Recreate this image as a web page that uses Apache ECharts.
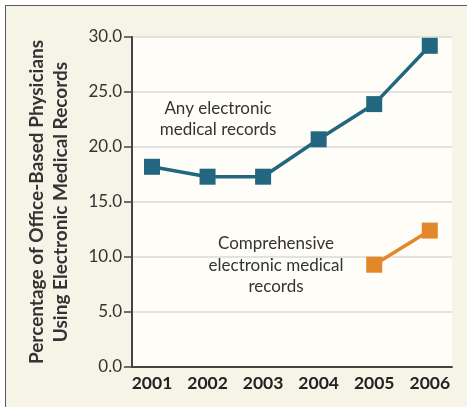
<!DOCTYPE html>
<html>
<head>
<meta charset="utf-8">
<script src="https://cdn.jsdelivr.net/npm/echarts@6/dist/echarts.min.js"></script>
<style>
  html, body { margin: 0; padding: 0; background: #ffffff; }
  #frame { position: absolute; left: 5px; top: 5px; width: 462px; height: 402px;
           border-top: 1.5px solid #5a5a5a; border-left: 1.5px solid #5a5a5a; background: #f6f3e7; box-sizing: border-box; }
  #chart { position: absolute; left: 0; top: 0; width: 467px; height: 407px; }
</style>
</head>
<body>
<div id="frame"></div>
<div id="chart"></div>
<script>
// Data
const years = [2001, 2002, 2003, 2004, 2005, 2006];
const anyEMR = [18.2, 17.3, 17.3, 20.7, 23.9, 29.2];
const comprehensiveYears = [2005, 2006];
const comprehensiveEMR = [9.3, 12.4];
const yTicks = [0, 5, 10, 15, 20, 25, 30];

const teal = '#22677f';
const orange = '#e3872a';
const font = 'Lato, "Open Sans", sans-serif';

const chart = echarts.init(document.getElementById('chart'), null, { renderer: 'canvas' });
chart.setOption({
  backgroundColor: 'transparent',
  animation: false,
  grid: { left: 132, right: 15, top: 37, bottom: 40, show: true,
          backgroundColor: '#fefdf8', borderWidth: 0 },
  xAxis: {
    type: 'value', min: 2000.64, max: 2006.4,
    axisLine: { show: true, lineStyle: { color: '#444', width: 2 } },
    axisTick: { show: false },
    splitLine: { show: false },
    axisLabel: { customValues: years, fontFamily: font, fontWeight: 'bold', fontSize: 17.5,
                 color: '#222', margin: 7, formatter: v => String(Math.round(v)) }
  },
  yAxis: {
    type: 'value', min: 0, max: 30, interval: 5,
    name: 'Percentage of Office-Based Physicians\nUsing Electronic Medical Records',
    nameLocation: 'middle', nameGap: 59, nameRotate: 90,
    nameTextStyle: { fontFamily: font, fontWeight: 'bold', fontSize: 19, color: '#333', lineHeight: 24 },
    axisLine: { show: true, lineStyle: { color: '#444', width: 2 } },
    axisTick: { show: true, length: 8, lineStyle: { color: '#444', width: 1.5 } },
    axisLabel: { fontFamily: font, fontSize: 17, color: '#333', margin: 10,
                 formatter: v => v.toFixed(1) },
    splitLine: { show: true, lineStyle: { color: '#d8d8d8', width: 1.5 } }
  },
  series: [
    { type: 'line', data: years.map((y, i) => [y, anyEMR[i]]),
      symbol: 'rect', symbolSize: 16, lineStyle: { color: teal, width: 3.5 },
      itemStyle: { color: teal }, z: 3 },
    { type: 'line', data: comprehensiveYears.map((y, i) => [y, comprehensiveEMR[i]]),
      symbol: 'rect', symbolSize: 16, lineStyle: { color: orange, width: 3.5 },
      itemStyle: { color: orange }, z: 3 }
  ],
  graphic: [
    { type: 'text', x: 218, y: 98,
      style: { text: 'Any electronic\nmedical records', fontFamily: font, fontSize: 17,
               fill: '#333', align: 'center', lineHeight: 21 } },
    { type: 'text', x: 276, y: 233,
      style: { text: 'Comprehensive\nelectronic medical\nrecords', fontFamily: font, fontSize: 17,
               fill: '#333', align: 'center', lineHeight: 21.5 } }
  ]
});
</script>
</body>
</html>
